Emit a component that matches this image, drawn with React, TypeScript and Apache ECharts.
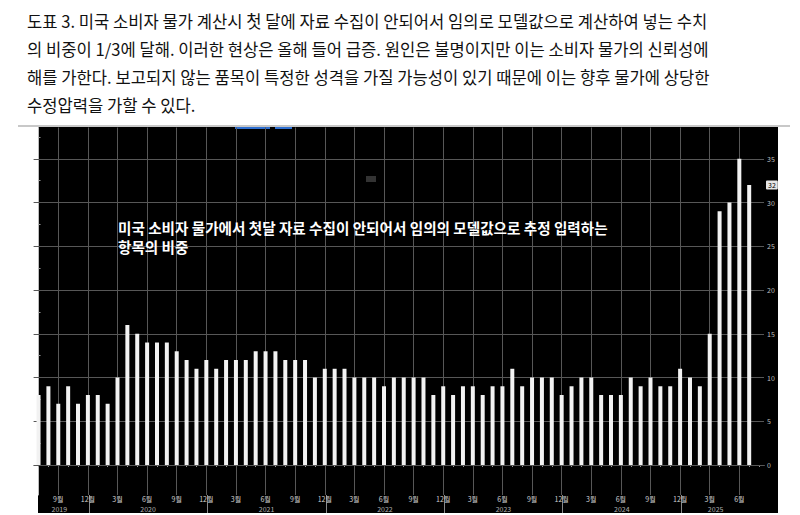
import React, { useEffect, useRef } from "react";
import * as echarts from "echarts";

// Categories: monthly, 2019-07 .. 2025-08 (axis range runs one month past the last bar)
const months: string[] = [
  "2019-07", "2019-08", "2019-09", "2019-10", "2019-11", "2019-12",
  "2020-01", "2020-02", "2020-03", "2020-04", "2020-05", "2020-06", "2020-07", "2020-08", "2020-09", "2020-10", "2020-11", "2020-12",
  "2021-01", "2021-02", "2021-03", "2021-04", "2021-05", "2021-06", "2021-07", "2021-08", "2021-09", "2021-10", "2021-11", "2021-12",
  "2022-01", "2022-02", "2022-03", "2022-04", "2022-05", "2022-06", "2022-07", "2022-08", "2022-09", "2022-10", "2022-11", "2022-12",
  "2023-01", "2023-02", "2023-03", "2023-04", "2023-05", "2023-06", "2023-07", "2023-08", "2023-09", "2023-10", "2023-11", "2023-12",
  "2024-01", "2024-02", "2024-03", "2024-04", "2024-05", "2024-06", "2024-07", "2024-08", "2024-09", "2024-10", "2024-11", "2024-12",
  "2025-01", "2025-02", "2025-03", "2025-04", "2025-05", "2025-06", "2025-07", "2025-08",
];

// Share (%) of CPI items imputed with model values because first-month data were not collected
const shareValues: (number | null)[] = [
  8, 9, 7, 9, 7, 8,
  8, 7, 10, 16, 15, 14, 14, 14, 13, 12, 11, 12,
  11, 12, 12, 12, 13, 13, 13, 12, 12, 12, 10, 11,
  11, 11, 10, 10, 10, 9, 10, 10, 10, 10, 8, 9,
  8, 9, 9, 8, 9, 9, 11, 9, 10, 10, 10, 8,
  9, 10, 10, 8, 8, 8, 10, 9, 10, 9, 9, 11,
  10, 9, 15, 29, 30, 35, 32, null,
];

const yTicks: number[] = [0, 5, 10, 15, 20, 25, 30, 35];
const yMinorTicks: number[] = [2.5, 7.5, 12.5, 17.5, 22.5, 27.5, 32.5, 37.5];
const quarterMonths: number[] = [3, 6, 9, 12];

const titleLines: string[] = [
  "도표 3. 미국 소비자 물가 계산시 첫 달에 자료 수집이 안되어서 임의로 모델값으로 계산하여 넣는 수치",
  "의 비중이 1/3에 달해. 이러한 현상은 올해 들어 급증. 원인은 불명이지만 이는 소비자 물가의 신뢰성에",
  "해를 가한다. 보고되지 않는 품목이 특정한 성격을 가질 가능성이 있기 때문에 이는 향후 물가에 상당한",
  "수정압력을 가할 수 있다.",
];

const noteLines: string[] = [
  "미국 소비자 물가에서 첫달 자료 수집이 안되어서 임의의 모델값으로 추정 입력하는",
  "항목의 비중",
];

const FONT = "'Noto Sans CJK KR', 'Noto Sans', sans-serif";

export default function App() {
  const ref = useRef<HTMLDivElement>(null);

  useEffect(() => {
    if (!ref.current) return;
    const chart = echarts.init(ref.current, undefined, { renderer: "svg" });

    const monthNum = (s: string) => parseInt(s.split("-")[1], 10);
    const yearOf = (s: string) => parseInt(s.split("-")[0], 10);

    const quarterIdx: number[] = [];
    months.forEach((m, i) => {
      if (quarterMonths.includes(monthNum(m))) quarterIdx.push(i);
    });

    // year label positions (centre of the year's months) and separators (at December)
    const years: number[] = Array.from(new Set(months.map(yearOf)));
    const yearPos = new Map<string, string>();
    const yearLabelVals: number[] = [];
    const yearSepVals: number[] = [];
    years.forEach((y) => {
      const idxs = months
        .map((m, i) => ({ m, i }))
        .filter((o) => yearOf(o.m) === y && shareValues[o.i] !== null)
        .map((o) => o.i);
      if (!idxs.length) return;
      const first = idxs[0];
      const last = idxs[idxs.length - 1];
      const p = (first + last) / 2 - 0.4;
      yearLabelVals.push(p);
      yearPos.set(p.toFixed(2), String(y));
      if (monthNum(months[last]) === 12) yearSepVals.push(last + 0.1);
    });

    const lastIdx = (() => {
      for (let i = shareValues.length - 1; i >= 0; i--) if (shareValues[i] !== null) return i;
      return 0;
    })();
    const lastValue = shareValues[lastIdx] as number;

    const xExtent = { min: -0.5, max: months.length - 0.5 };
    const gridLine = { color: "#575757", type: "solid", width: 1 };

    // grid lines drawn as mark lines at axis values (below the bars)
    const gridMarks: any[] = [
      ...yTicks.map((v) => ({ yAxis: v, lineStyle: gridLine, label: { show: false } })),
      ...quarterIdx.map((i) => ({ xAxis: months[i], lineStyle: gridLine, label: { show: false } })),
    ];

    chart.setOption({
      animation: false,
      backgroundColor: "transparent",
      textStyle: { fontFamily: FONT },
      title: [
        {
          text: titleLines.join("\n"),
          left: 27,
          top: 7,
          padding: 0,
          textStyle: {
            fontFamily: FONT,
            fontSize: 16.6,
            lineHeight: 28,
            color: "#111111",
            fontWeight: "normal",
          },
        },
        {
          text: noteLines.join("\n"),
          left: 118,
          top: 218,
          padding: 0,
          textStyle: {
            fontFamily: FONT,
            fontSize: 14.6,
            lineHeight: 19,
            color: "#ffffff",
            fontWeight: "bold",
          },
        },
      ],
      graphic: {
        elements: [
          { type: "line", shape: { x1: 18, y1: 126, x2: 790, y2: 126 }, style: { stroke: "#c8c8c8", lineWidth: 2 }, silent: true },
          { type: "rect", shape: { x: 235, y: 127, width: 35, height: 2 }, style: { fill: "#2f6fd0" }, silent: true },
          { type: "rect", shape: { x: 275, y: 127, width: 17, height: 2 }, style: { fill: "#2f6fd0" }, silent: true },
          { type: "rect", shape: { x: 366, y: 176, width: 10, height: 6 }, style: { fill: "#333333" }, silent: true },
        ],
      },
      grid: { left: 33.6, right: 36, top: 127.5, bottom: 20, containLabel: false },
      xAxis: [
        {
          type: "category",
          data: months,
          boundaryGap: true,
          position: "bottom",
          axisLine: { show: true, lineStyle: { color: "#bdbdbd", width: 1 } },
          axisTick: { show: true, alignWithLabel: true, interval: 0, length: 2, lineStyle: { color: "#9a9a9a" } },
          axisLabel: {
            interval: (i: number) => quarterIdx.includes(i),
            formatter: (v: string) => `${monthNum(v)}월`,
            fontSize: 7,
            color: "#d0d0d0",
            margin: 0,
            fontFamily: FONT,
          },
          splitLine: { show: false },
        },
        {
          type: "value",
          ...xExtent,
          position: "bottom",
          axisLine: { show: false },
          axisLabel: { show: false },
          axisTick: { show: true, customValues: quarterIdx, length: 4, lineStyle: { color: "#e0e0e0" } },
          splitLine: { show: false },
        },
        {
          type: "value",
          ...xExtent,
          position: "bottom",
          axisLine: { show: false },
          axisTick: { show: true, customValues: yearSepVals, length: 18, lineStyle: { color: "#8a8a8a" } },
          axisLabel: {
            show: true,
            customValues: yearLabelVals,
            formatter: (v: number) => yearPos.get(v.toFixed(2)) ?? "",
            fontSize: 7,
            color: "#b0b0b0",
            margin: 10,
            fontFamily: FONT,
          },
          splitLine: { show: false },
        },
      ],
      yAxis: [
        {
          type: "value",
          position: "right",
          min: -3.43,
          max: 38.58,
          axisLine: { show: true, lineStyle: { color: "#bdbdbd", width: 1 } },
          axisTick: { show: true, customValues: yTicks, length: 3, inside: false, lineStyle: { color: "#bdbdbd" } },
          axisLabel: { show: true, customValues: yTicks, fontSize: 7, color: "#bdbdbd", margin: 3, fontFamily: FONT },
          splitLine: { show: false },
        },
        {
          type: "value",
          position: "right",
          min: -3.43,
          max: 38.58,
          axisLine: { show: false },
          axisTick: { show: true, customValues: yMinorTicks, length: 2, lineStyle: { color: "#9a9a9a" } },
          axisLabel: { show: false },
          splitLine: { show: false },
        },
      ],
      series: [
        {
          type: "bar",
          name: "share",
          xAxisIndex: 0,
          yAxisIndex: 0,
          data: shareValues,
          barWidth: 4,
          z: 3,
          itemStyle: { color: "#f2f2f2" },
          markLine: {
            silent: true,
            z: 1,
            symbol: ["none", "none"],
            data: [
              ...gridMarks,
              {
                yAxis: lastValue,
                lineStyle: { color: "rgba(0,0,0,0)", width: 0 },
                label: {
                  show: true,
                  position: "end",
                  distance: 2,
                  formatter: String(lastValue),
                  backgroundColor: "#e6e6e6",
                  color: "#000",
                  fontSize: 7,
                  padding: [1, 2],
                  borderRadius: 1,
                  fontFamily: FONT,
                },
              },
            ],
          },
        },
      ],
    });

    return () => chart.dispose();
  }, []);

  return (
    <div style={{ position: "absolute", left: 0, top: 0, width: 800, height: 515, background: "#ffffff" }}>
      <div style={{ position: "absolute", left: 38, top: 127, width: 740, height: 386, background: "#000000" }} />
      <div ref={ref} style={{ position: "absolute", left: 0, top: 0, width: 800, height: 515 }} />
    </div>
  );
}
